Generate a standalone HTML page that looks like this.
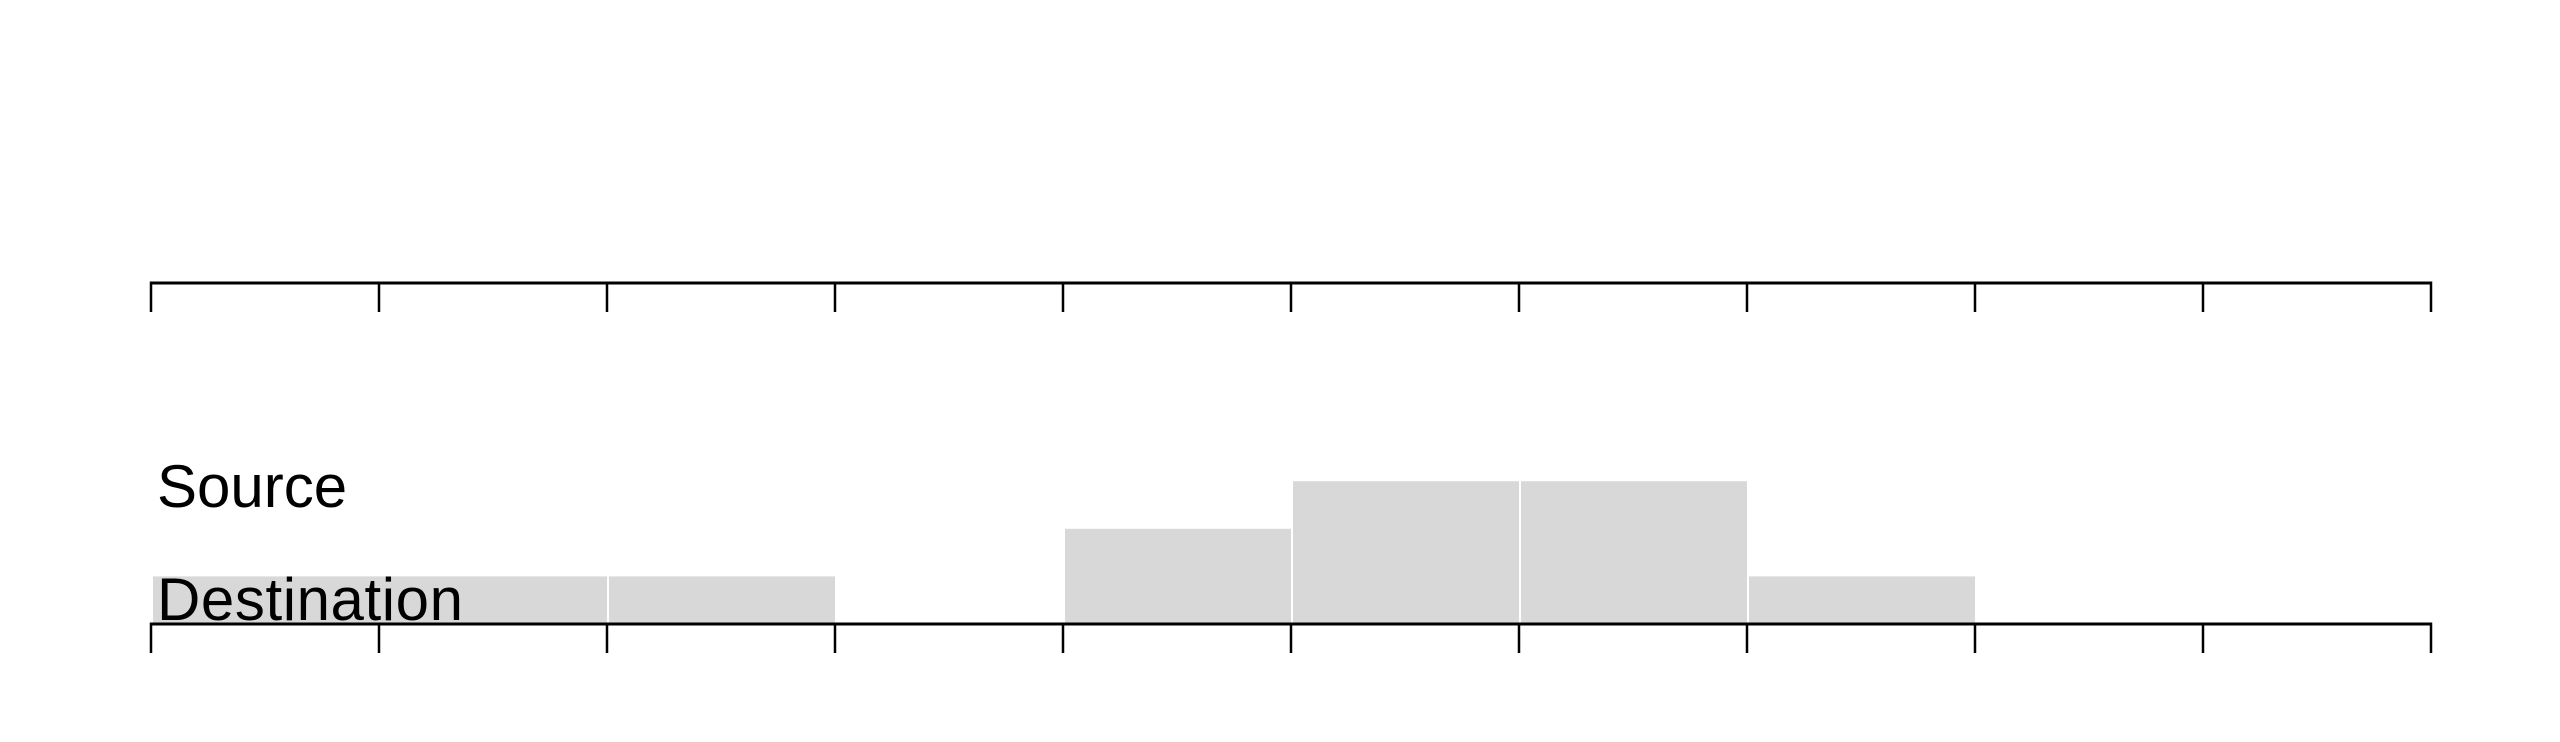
<!DOCTYPE html>
<html><head><meta charset="utf-8"><style>
html,body{margin:0;padding:0;background:#fff;width:2560px;height:742px;overflow:hidden}
svg{display:block}
text{font-family:"Liberation Sans",sans-serif;font-size:60px;fill:#000}
</style></head><body>
<svg id="chart" width="2560" height="742" viewBox="0 0 2560 742" xmlns="http://www.w3.org/2000/svg">
<g id="bars"></g>
<g id="axes"></g>
<text x="157" y="507">Source</text>
<text x="157" y="620" textLength="306">Destination</text>
</svg>
<script>
const ticks = [0,1,2,3,4,5,6,7,8,9,10];
const binStarts = [0,2,4,5,6,7];
const binEnds = [2,3,5,6,7,8];
const counts = [1,1,2,3,3,1];
const ns = "http://www.w3.org/2000/svg";
const x0 = 151, x1 = 2431, domainMax = 10;
const baseY = 624, unit = 47.6;
function xs(v){ return x0 + (x1 - x0) * v / domainMax; }
function ys(v){ return baseY - v * unit; }
const bars = document.getElementById('bars');
counts.forEach((c, i) => {
  if (c <= 0) return;
  const r = document.createElementNS(ns, 'rect');
  const a = xs(binStarts[i]) + 2, b = xs(binEnds[i]);
  r.setAttribute('x', a);
  r.setAttribute('y', ys(c));
  r.setAttribute('width', b - a);
  r.setAttribute('height', baseY - ys(c));
  r.setAttribute('fill', '#d8d8d8');
  
  
  bars.appendChild(r);
});
const axes = document.getElementById('axes');
[283, 624].forEach((y, k) => {
  const g = document.createElementNS(ns, 'g');
  
  
  const l = document.createElementNS(ns, 'line');
  l.setAttribute('x1', x0); l.setAttribute('x2', x1);
  l.setAttribute('y1', y); l.setAttribute('y2', y);
  l.setAttribute('stroke', '#000'); l.setAttribute('stroke-width', 3);
  
  
  g.appendChild(l);
  ticks.forEach(v => {
    const t = document.createElementNS(ns, 'line');
    t.setAttribute('x1', xs(v)); t.setAttribute('x2', xs(v));
    t.setAttribute('y1', y - 1.5); t.setAttribute('y2', y + 29);
    t.setAttribute('stroke', '#000'); t.setAttribute('stroke-width', 2.5);
    
    
    g.appendChild(t);
  });
  axes.appendChild(g);
});
</script>
</body></html>
